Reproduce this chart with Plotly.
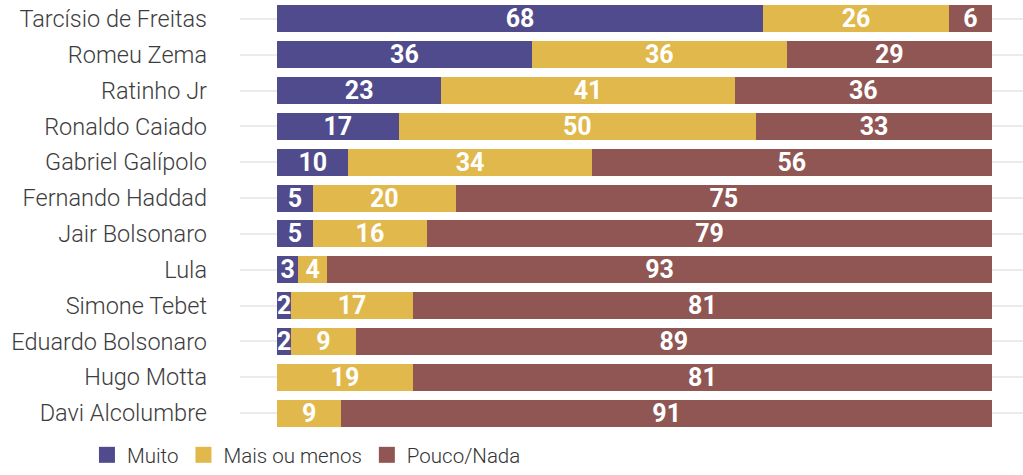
import plotly.graph_objects as go

# Survey: how much each name is known/approved (%), three answer groups
nomes = [
    "Tarcísio de Freitas", "Romeu Zema", "Ratinho Jr", "Ronaldo Caiado",
    "Gabriel Galípolo", "Fernando Haddad", "Jair Bolsonaro", "Lula",
    "Simone Tebet", "Eduardo Bolsonaro", "Hugo Motta", "Davi Alcolumbre",
]
muito = [68, 36, 23, 17, 10, 5, 5, 3, 2, 2, None, None]
mais_ou_menos = [26, 36, 41, 50, 34, 20, 16, 4, 17, 9, 19, 9]
pouco_nada = [6, 29, 36, 33, 56, 75, 79, 93, 81, 89, 81, 91]

series = [
    ("Muito", muito, "#504b8c"),
    ("Mais ou menos", mais_ou_menos, "#e0b84c"),
    ("Pouco/Nada", pouco_nada, "#8f5654"),
]

fig = go.Figure()
for nome, vals, cor in series:
    fig.add_trace(go.Bar(
        y=nomes,
        x=vals,
        name=nome,
        orientation="h",
        marker=dict(color=cor, line=dict(width=0)),
        text=[("" if v is None else str(v)) for v in vals],
        textposition="inside",
        insidetextanchor="middle",
        textangle=0,
        textfont=dict(family="Roboto", size=25, color="white", weight="bold"),
        constraintext="none",
        cliponaxis=False,
        hoverinfo="skip",
        showlegend=False,
    ))

# Legend entries with larger square swatches
for nome, _, cor in series:
    fig.add_trace(go.Scatter(
        x=[None], y=[None],
        mode="markers",
        name=nome,
        marker=dict(symbol="square", size=17, color=cor),
        hoverinfo="skip",
        showlegend=True,
    ))

fig.update_layout(
    width=1023,
    height=475,
    barmode="stack",
    barnorm="percent",
    bargap=0.25,
    plot_bgcolor="white",
    paper_bgcolor="white",
    margin=dict(l=240, r=0, t=1, b=44),
    showlegend=True,
    legend=dict(
        orientation="h",
        xref="container", yref="container",
        x=0.085, y=-0.012, xanchor="left", yanchor="bottom",
        font=dict(family="Roboto", size=20.5, color="#333333", weight=300),
        itemwidth=30,
        traceorder="normal",
        tracegroupgap=0,
        borderwidth=0,
    ),
    font=dict(family="Roboto"),
)

fig.update_xaxes(
    range=[-5.17, 104.34],
    showgrid=False, zeroline=False, showticklabels=False, fixedrange=True,
)
fig.update_yaxes(
    categoryorder="array",
    categoryarray=nomes[::-1],
    autorange=False,
    range=[-0.5, len(nomes) - 0.5],
    showgrid=True, gridcolor="#ebebeb", gridwidth=1.5,
    ticks="", ticklabelstandoff=32,
    tickfont=dict(family="Roboto", size=23.5, color="#3d3d3d", weight=300),
    showline=False, zeroline=False,
)

fig.write_html("out.html")
